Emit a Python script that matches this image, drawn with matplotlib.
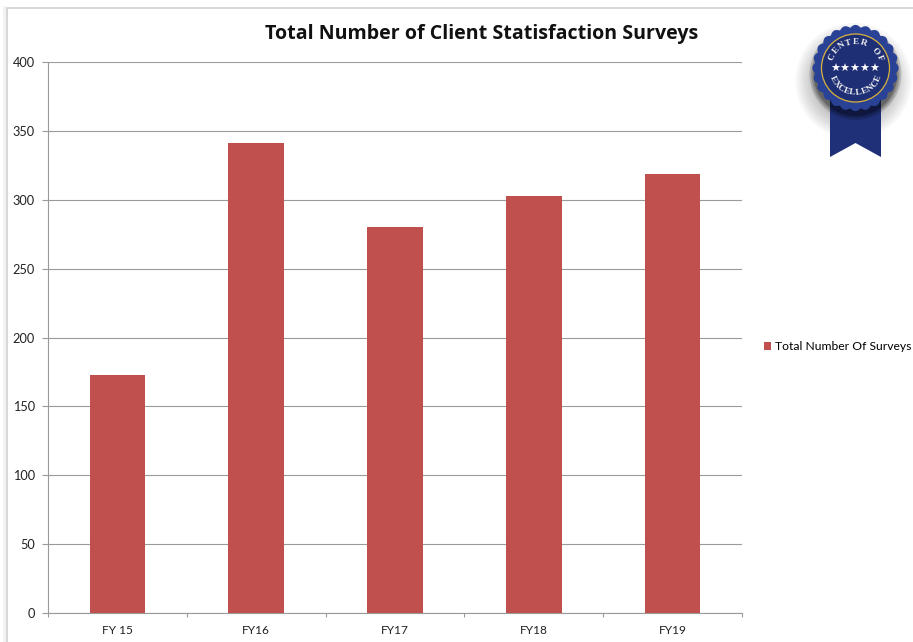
import numpy as np
import matplotlib
matplotlib.use("Agg")
import matplotlib.pyplot as plt
from matplotlib.patches import Polygon, Circle, Rectangle

categories = ["FY 15", "FY16", "FY17", "FY18", "FY19"]
surveys = [173, 341, 280, 303, 319]
yticks = [0, 50, 100, 150, 200, 250, 300, 350, 400]
title = "Total Number of Client Statisfaction Surveys"
series_name = "Total Number Of Surveys"

BAR = "#C0504D"
GRID = "#9A9A9A"
W, H = 913, 642
plt.rcParams["font.family"] = ["Lato", "Open Sans", "DejaVu Sans"]

fig = plt.figure(figsize=(W / 100, H / 100), dpi=100, facecolor="white")

# pixel-coordinate overlay for frame and badge
ov = fig.add_axes([0, 0, 1, 1], zorder=0)
ov.set_xlim(0, W)
ov.set_ylim(H, 0)
ov.axis("off")
ov.add_patch(Rectangle((6.5, 8), W, H, fc="white", ec="#CFCFCF", lw=1.2))
ov.add_patch(Rectangle((3, 6), 3, H, fc="#F3F3F3", ec="none"))

ax = fig.add_axes([48 / W, 1 - 613 / H, (742 - 48) / W, (613 - 62) / H], zorder=1)
ax.patch.set_alpha(0)
x = np.arange(len(categories))
ax.bar(x, surveys, width=0.4, color=BAR, label=series_name, zorder=3)
ax.set_xlim(-0.5, len(categories) - 0.5)
ax.set_ylim(0, 400)
ax.set_yticks(yticks)
ax.set_xticks(x)
ax.set_xticklabels(categories)
ax.tick_params(axis="x", length=0, pad=9, labelsize=8.6, colors="#222222")
ax.tick_params(axis="y", length=4.5, width=0.8, color=GRID, pad=5, labelsize=9.2, labelcolor="#222222")
ax.set_xticks(np.arange(-0.5, len(categories)), minor=True)
ax.tick_params(axis="x", which="minor", length=3, width=0.8, color=GRID)
ax.yaxis.grid(True, color=GRID, lw=0.8)
ax.set_axisbelow(True)
for s in ("top", "right"):
    ax.spines[s].set_visible(False)
for s in ("left", "bottom"):
    ax.spines[s].set_color(GRID)
    ax.spines[s].set_linewidth(0.8)

ov.text(482, 34, title, ha="center", va="center", fontsize=14.1, fontweight="bold",
        color="#111111", family=["Open Sans", "DejaVu Sans"])

ax.legend(loc="center left", bbox_to_anchor=(764 / W, 1 - 347 / H),
          bbox_transform=fig.transFigure, frameon=False, fontsize=8.7,
          handlelength=0.62, handleheight=0.62, handletextpad=0.32,
          borderpad=0, borderaxespad=0)

# badge
bx, by = 855.5, 68
for r, a in zip(np.arange(58, 38, -2.5), [0.03] * 8):
    ov.add_patch(Circle((bx - 2, by + 13), r, fc="black", ec="none", alpha=a, zorder=2))
ov.add_patch(Polygon([(830, 100), (881, 100), (881, 157), (855.5, 143), (830, 157)],
                     fc="#1F2F78", ec="none", zorder=3))
for r, a in zip([46, 44, 42], [0.15, 0.18, 0.25]):
    ov.add_patch(Circle((bx, by + 6), r, fc="black", ec="none", alpha=a, zorder=3))
t = np.linspace(0, 2 * np.pi, 720)
R = 40.5 + 2.6 * np.abs(np.cos(t * 12))
ov.add_patch(Polygon(np.c_[bx + R * np.cos(t), by + R * np.sin(t)], fc="#2A4296", ec="none", zorder=4))
ov.add_patch(Circle((bx, by), 34, fc="#1E2F75", ec="#D9B23C", lw=0.9, zorder=5))

def arc_text(s, radius, start, stop, bottom=False):
    angs = np.linspace(start, stop, len(s))
    for ch, ang in zip(s, angs):
        rad = np.deg2rad(ang)
        px = bx + radius * np.cos(rad)
        py = by - radius * np.sin(rad)
        rot = ang + 90 if bottom else ang - 90
        ov.text(px, py, ch, ha="center", va="center", rotation=rot, rotation_mode="anchor",
                fontsize=6.6, fontweight="bold", color="#F2F2F2", family="Liberation Serif", zorder=6)

arc_text("CENTER OF", 26, 155, 22)
arc_text("EXCELLENCE", 25, 205, 335, bottom=True)
ov.text(bx, by + 1, "★★★★★", ha="center", va="center", fontsize=8, color="white",
        family="DejaVu Sans", zorder=6)

fig.savefig("out.png", dpi=100, facecolor="white")
